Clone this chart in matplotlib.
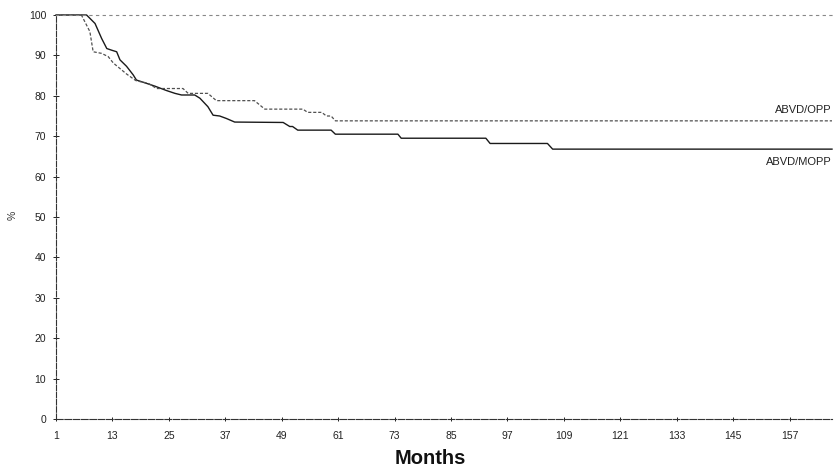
import matplotlib
matplotlib.use('Agg')
import matplotlib.pyplot as plt

# Survival curves (months, %)
mopp_months = [1, 7.5, 9.3, 10.7, 11.8, 12.8, 13.9, 14.6, 16.0, 17.4, 18.1, 20.2, 22.0,
               24.5, 26.3, 27.7, 30.5, 31.6, 33.3, 34.4, 35.8, 37.2, 39.0, 49.3, 50.7,
               51.3, 52.4, 59.5, 60.4, 73.7, 74.4, 92.4, 93.3, 105.5, 106.6, 166]
mopp_pct = [100, 100, 97.9, 94.2, 91.7, 91.3, 90.9, 88.9, 87.3, 85.2, 83.9, 83.1, 82.4,
            81.3, 80.6, 80.2, 80.2, 79.4, 77.3, 75.2, 75.0, 74.4, 73.5, 73.4, 72.4,
            72.4, 71.5, 71.5, 70.5, 70.5, 69.5, 69.5, 68.2, 68.2, 66.8, 66.8]

opp_months = [1, 6.4, 8.2, 8.9, 10.7, 12.1, 13.2, 16.0, 17.8, 18.1, 20.6, 22.4, 28.0,
              29.1, 33.3, 35.1, 43.2, 45.4, 53.5, 54.5, 57.5, 58.5, 59.5, 60.4, 166]
opp_pct = [100, 100, 95.9, 90.9, 90.5, 89.7, 88.1, 85.4, 83.9, 83.7, 83.1, 81.8, 81.8,
           80.6, 80.6, 78.8, 78.8, 76.7, 76.7, 75.9, 75.9, 75.0, 75.0, 73.8, 73.8]

x_ticks = [1, 13, 25, 37, 49, 61, 73, 85, 97, 109, 121, 133, 145, 157]
y_ticks = [0, 10, 20, 30, 40, 50, 60, 70, 80, 90, 100]

plt.rcParams['font.family'] = ['Liberation Sans', 'DejaVu Sans']

fig = plt.figure(figsize=(8.35, 4.69), dpi=100)
ax = fig.add_axes([56 / 835, 50 / 469, 776 / 835, 404 / 469])

ax.plot(mopp_months, mopp_pct, color='#1a1a1a', lw=1.0, clip_on=False)
ax.plot(opp_months, opp_pct, color='#505050', lw=0.9, linestyle=(0, (2.5, 1.5)), clip_on=False)

ax.set_xlim(1, 166)
ax.set_ylim(0, 100)
ax.set_xticks(x_ticks)
ax.set_yticks(y_ticks)
ax.tick_params(axis='x', direction='inout', length=3, width=0.7, pad=7,
               labelsize=7.5, colors='#222222')
ax.tick_params(axis='y', direction='inout', length=4, width=0.7, pad=5,
               labelsize=7.5, colors='#222222')

ax.spines['right'].set_visible(False)
ax.spines['top'].set_color('#888888')
ax.spines['top'].set_linestyle((0, (2, 4)))
ax.spines['top'].set_linewidth(0.8)
ax.spines['bottom'].set_color('#333333')
ax.spines['bottom'].set_linestyle((0, (6, 1.5)))
ax.spines['bottom'].set_linewidth(0.8)
ax.spines['left'].set_color('#333333')
ax.spines['left'].set_linestyle((0, (5, 1.5)))
ax.spines['left'].set_linewidth(0.8)

ax.text(166, 76.4, 'ABVD/OPP', ha='right', va='center', fontsize=8, color='#222222')
ax.text(166, 63.6, 'ABVD/MOPP', ha='right', va='center', fontsize=8, color='#222222')

fig.text(13 / 835, 1 - 215 / 469, '%', rotation=90, ha='center', va='center',
         fontsize=7.5, color='#333333')
fig.text(430 / 835, 1 - 458 / 469, 'Months', ha='center', va='center',
         fontsize=14.5, fontweight='bold', color='#111111')

fig.savefig('out.png', dpi=100)
